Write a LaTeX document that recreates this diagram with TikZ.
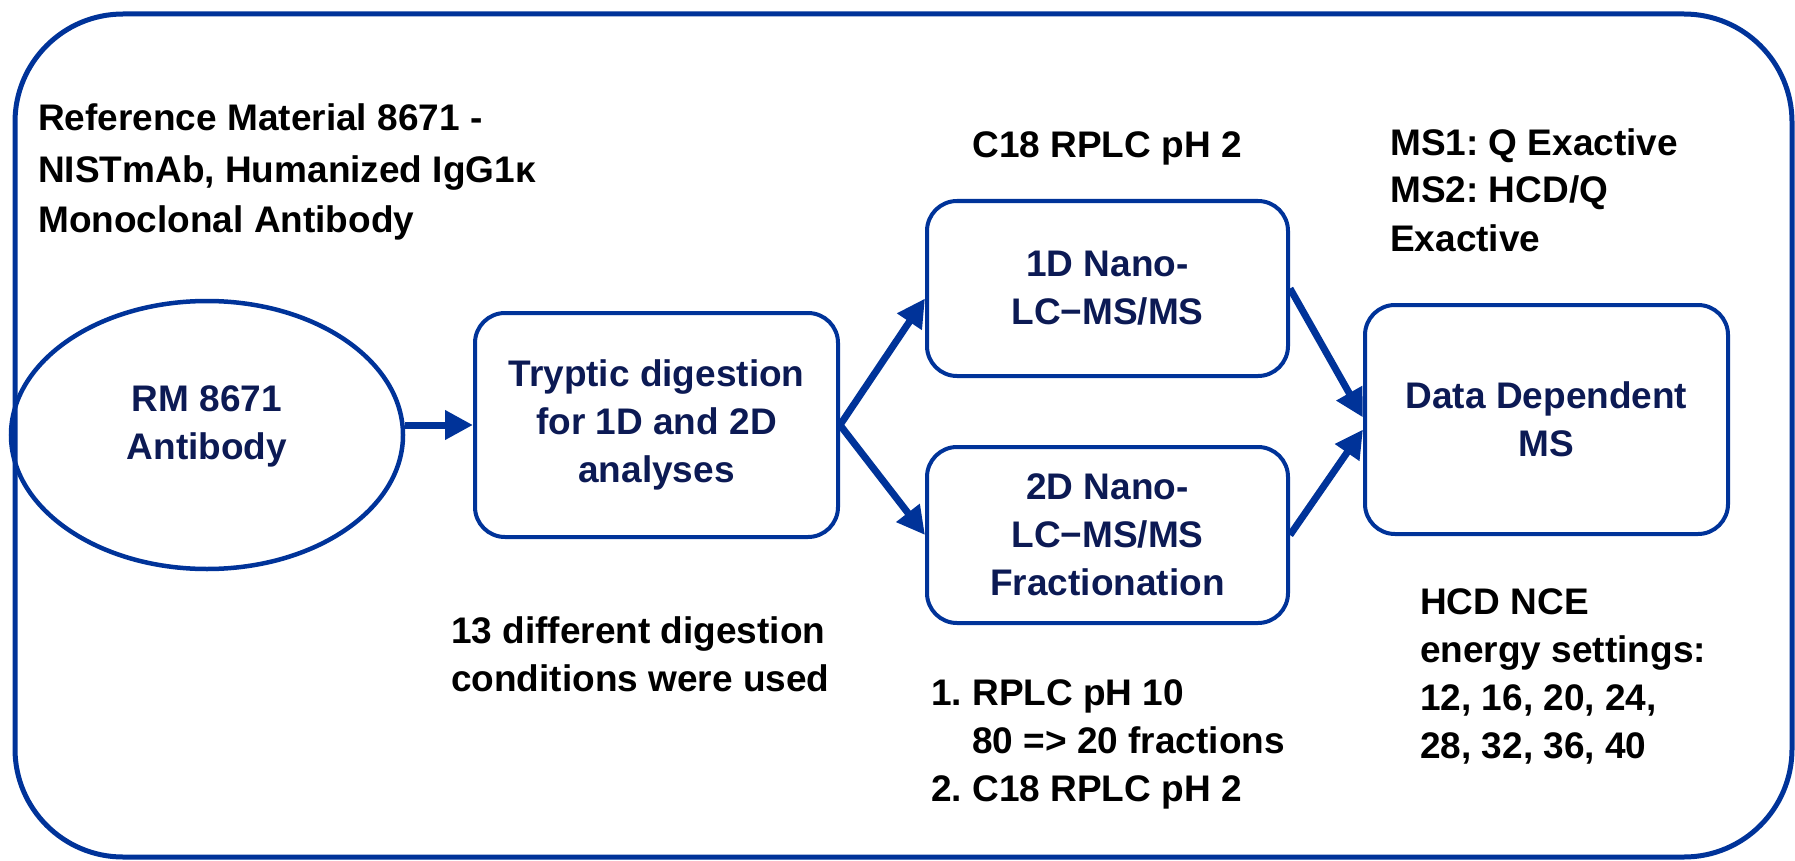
\documentclass[tikz,border=0pt]{standalone}
\usepackage{fontspec}
\setmainfont{Liberation Sans}
\usetikzlibrary{arrows.meta,shapes.geometric}
\definecolor{frameblue}{RGB}{0,51,153}
\definecolor{navytext}{RGB}{12,26,84}
\frenchspacing
\begin{document}
\begin{tikzpicture}[x=1pt,y=-1pt,
  box/.style={draw=frameblue, line width=4pt, rounded corners=30pt, align=center,
    text=navytext, font=\bfseries\fontsize{37}{48}\selectfont, inner sep=0pt},
  note/.style={align=left, text=black, font=\bfseries\fontsize{37}{48}\selectfont,
    inner sep=0pt, anchor=base west},
  flow/.style={draw=frameblue, line width=7pt, -{Triangle[length=28pt,width=28pt]}},
]
\useasboundingbox (0,0) rectangle (1795,861);
% outer frame
\draw[frameblue, line width=5pt, rounded corners=108pt] (15,14) rectangle (1792,857);

% shapes
\node[ellipse, draw=frameblue, line width=4.5pt, minimum width=392pt, minimum height=268pt, inner sep=0pt] (ell) at (207,435) {};
\node[align=center, text=navytext, font=\bfseries\fontsize{37}{48}\selectfont, inner sep=0pt] (ellt) at (207,426) {RM 8671\\Antibody};

\node[box, minimum width=363pt, minimum height=224pt] (tryp) at (656.5,425) {Tryptic digestion\\for 1D and 2D\\analyses};
\node[box, minimum width=361pt, minimum height=175pt] (d1) at (1107.5,288.5) {1D Nano-\\LC\textminus MS/MS};
\node[box, minimum width=361pt, minimum height=176pt] (d2) at (1107.5,535) {2D Nano-\\LC\textminus MS/MS\\Fractionation};
\node[box, minimum width=363pt, minimum height=229pt] (dd) at (1546.5,419.5) {Data Dependent\\MS};

% connectors
\draw[flow] (ell.east |- tryp.west) -- (tryp.west);
\draw[flow] (tryp.east) -- ([yshift=-10pt]d1.west);
\draw[flow] (tryp.east) -- (d2.west);
\draw[flow] (d1.east) -- ([yshift=2pt]dd.west);
\draw[flow] (d2.east) -- ([yshift=-10pt]dd.west);

% notes (base anchor = baseline of last line)
\node[note, font=\bfseries\fontsize{37}{51}\selectfont] (ref) at (38,233) {Reference Material 8671 -\\NISTmAb, Humanized IgG1\char"03BA\\Monoclonal Antibody};
\node[note, anchor=base] (c18) at (1107,158) {C18 RPLC pH 2};
\node[note] (ms) at (1390,251) {MS1: Q Exactive\\MS2: HCD/Q\\Exactive};
\node[note] (cond) at (451,691) {13 different digestion\\conditions were used};
\node[note] (list) at (931,801) {1. RPLC pH 10\\\phantom{1. }80 => 20 fractions\\2. C18 RPLC pH 2};
\node[note] (hcd) at (1420,758) {HCD NCE\\energy settings:\\12, 16, 20, 24,\\28, 32, 36, 40};
\end{tikzpicture}
\end{document}
